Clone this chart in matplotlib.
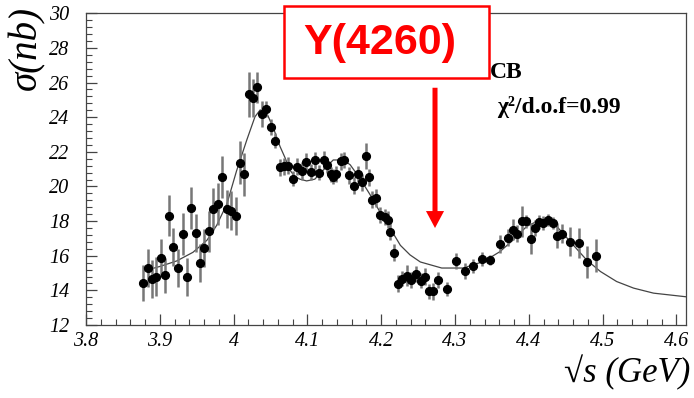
import matplotlib
matplotlib.use("Agg")
import matplotlib.pyplot as plt
from matplotlib.patches import FancyArrow, Rectangle
from matplotlib.ticker import MultipleLocator, FixedLocator, FixedFormatter

# dados: energia (GeV), secao de choque (nb), erro (nb)
energia = [3.8768, 3.8840, 3.8894, 3.8949, 3.9012, 3.9070, 3.9129, 3.9183, 3.9251, 3.9310,
           3.9369, 3.9427, 3.9491, 3.9545, 3.9603, 3.9667, 3.9725, 3.9785, 3.9847, 3.9907,
           3.9965, 4.0028, 4.0083, 4.0141, 4.0209, 4.0259, 4.0321, 4.0385, 4.0443, 4.0503,
           4.0565, 4.0625, 4.0683, 4.0737, 4.0801, 4.0863, 4.0923, 4.0981, 4.1042, 4.1103,
           4.1161, 4.1221, 4.1270, 4.1313, 4.1351, 4.1388, 4.1449, 4.1500, 4.1566, 4.1627,
           4.1688, 4.1742, 4.1797, 4.1828, 4.1875, 4.1930, 4.1984, 4.2045, 4.2092, 4.2119,
           4.2173, 4.2234, 4.2282, 4.2343, 4.2404, 4.2472, 4.2533, 4.2594, 4.2652, 4.2702,
           4.2767, 4.2888, 4.3011, 4.3133, 4.3244, 4.3366, 4.3478, 4.3606, 4.3718, 4.3786,
           4.3844, 4.3908, 4.3958, 4.4026, 4.4080, 4.4134, 4.4197, 4.4260, 4.4324, 4.4378,
           4.4446, 4.4558, 4.4680, 4.4793, 4.4915]
sigma = [14.42, 15.29, 14.67, 14.80, 15.88, 14.86, 18.32, 16.53, 15.29, 17.27,
         14.77, 18.75, 17.32, 15.57, 16.46, 17.40, 18.71, 18.98, 20.54, 18.71,
         18.61, 18.32, 21.38, 20.71, 25.33, 25.10, 25.73, 24.19, 24.48, 23.44,
         22.65, 21.11, 21.17, 21.21, 20.46, 21.15, 20.90, 21.42, 20.84, 21.51,
         20.80, 21.52, 21.22, 20.70, 20.57, 20.73, 21.46, 21.52, 20.65, 20.05,
         20.72, 20.24, 21.75, 20.52, 19.23, 19.33, 18.36, 18.24, 18.09, 17.38,
         16.17, 14.38, 14.68, 14.85, 14.61, 14.96, 14.57, 14.79, 13.94, 13.94,
         14.61, 14.09, 15.69, 15.12, 15.42, 15.81, 15.76, 16.67, 17.05, 17.50,
         17.27, 17.98, 17.98, 16.98, 17.59, 17.94, 17.88, 18.07, 17.88, 17.15,
         17.27, 16.82, 16.73, 15.63, 16.00]
erro = [1.05, 1.1, 1.1, 1.1, 1.1, 1.0, 1.2, 1.1, 1.1, 1.2,
        1.1, 1.2, 1.1, 1.1, 1.1, 1.2, 1.2, 1.2, 1.2, 1.1,
        1.1, 1.1, 1.25, 1.25, 1.3, 1.1, 0.9, 0.75, 0.45, 0.45,
        0.45, 0.5, 0.5, 0.5, 0.45, 0.5, 0.5, 0.5, 0.45, 0.5,
        0.45, 0.5, 0.45, 0.45, 0.45, 0.45, 0.5, 0.45, 0.5, 0.5,
        0.45, 0.5, 0.75, 0.5, 0.5, 0.5, 0.45, 0.45, 0.5, 0.5,
        0.5, 0.5, 0.45, 0.6, 0.45, 0.45, 0.45, 0.5, 0.45, 0.5,
        0.45, 0.4, 0.45, 0.45, 0.4, 0.4, 0.3, 0.5, 0.5, 0.6,
        0.5, 0.9, 0.35, 0.9, 0.45, 0.4, 0.4, 0.35, 0.35, 0.72,
        0.55, 0.85, 0.87, 0.91, 0.96]

# curva do ajuste (CB), lida ponto a ponto
ajuste_x = [3.878, 3.900, 3.923, 3.945, 3.964, 3.977, 3.991, 4.004, 4.018, 4.029,
            4.036, 4.045, 4.054, 4.063, 4.070, 4.076, 4.083, 4.090, 4.099, 4.110,
            4.124, 4.135, 4.149, 4.158, 4.171, 4.185, 4.198, 4.212, 4.226, 4.239,
            4.253, 4.282, 4.311, 4.339, 4.361, 4.379, 4.397, 4.415, 4.426, 4.438,
            4.456, 4.478, 4.497, 4.519, 4.542, 4.569, 4.613]
ajuste_y = [15.12, 15.38, 15.70, 16.20, 16.90, 17.75, 19.00, 20.90, 22.70, 24.03,
            24.42, 24.23, 23.36, 22.30, 21.63, 20.96, 20.57, 20.42, 20.32, 20.42,
            21.06, 21.53, 21.53, 21.25, 20.48, 19.52, 18.55, 17.59, 16.60, 16.05,
            15.64, 15.29, 15.29, 15.67, 16.24, 16.92, 17.69, 18.07, 18.11, 17.69,
            16.82, 15.77, 15.09, 14.51, 14.13, 13.84, 13.63]

xticks = [3.8, 3.9, 4.0, 4.1, 4.2, 4.3, 4.4, 4.5, 4.6]
xtick_labels = ['3.8', '3.9', '4', '4.1', '4.2', '4.3', '4.4', '4.5', '4.6']
yticks = [12, 14, 16, 18, 20, 22, 24, 26, 28, 30]

fonte = 'Liberation Serif'

fig = plt.figure(figsize=(6.94, 3.98), dpi=100)
ax = fig.add_axes([0.1239, 0.1834, 0.8646, 0.7832])

ax.plot(ajuste_x, ajuste_y, color='#444444', lw=0.9, zorder=2)
ax.errorbar(energia, sigma, yerr=erro, fmt='o', color='black', ms=5.6,
            ecolor='#777777', elinewidth=1.8, capsize=0, zorder=3)

ax.set_xlim(3.8, 4.613)
ax.set_ylim(12, 30)

ax.xaxis.set_major_locator(FixedLocator(xticks))
ax.xaxis.set_major_formatter(FixedFormatter(xtick_labels))
ax.xaxis.set_minor_locator(MultipleLocator(0.02))
ax.yaxis.set_major_locator(FixedLocator(yticks))
ax.yaxis.set_minor_locator(MultipleLocator(0.4))
ax.tick_params(which='both', direction='in', top=False, right=False, color='#444444')
ax.tick_params(which='major', length=8, width=0.9)
ax.tick_params(which='minor', length=4, width=0.8)
ax.tick_params(axis='x', pad=5)
ax.tick_params(axis='y', pad=12)
for lab in ax.get_xticklabels() + ax.get_yticklabels():
    lab.set_fontfamily(fonte)
    lab.set_fontstyle('italic')
    lab.set_fontsize(14.5)
for s in ax.spines.values():
    s.set_color('#444444')
    s.set_linewidth(0.9)

# titulos dos eixos
fig.text(27 / 694, 1 - 6 / 398, 'σ(nb)', rotation=90, ha='center', va='top',
         family=fonte, style='italic', fontsize=28)
fig.text(690 / 694, 1 - 373 / 398, '√s (GeV)', ha='right', va='center',
         family=fonte, style='italic', fontsize=25)

# caixa Y(4260) e seta
caixa = Rectangle((284 / 694, 1 - 78 / 398), 205 / 694, 72 / 398, transform=fig.transFigure,
                  facecolor='white', edgecolor='red', lw=1.8, zorder=5)
fig.patches.append(caixa)
fig.text(380 / 694, 1 - 43 / 398, 'Y(4260)', ha='center', va='center', color='red',
         family='Liberation Sans', weight='bold', fontsize=31, zorder=6)
ax.add_patch(FancyArrow(4.2729, 25.7, 0, -8.1, width=0.0068, head_width=0.0245,
                        head_length=0.98, length_includes_head=True, color='red',
                        lw=0, zorder=6))

fig.text(490 / 694, 1 - 73 / 398, 'CB', ha='left', va='center',
         family=fonte, weight='bold', fontsize=17)
fig.text(497 / 694, 1 - 107 / 398, 'χ²/d.o.f=0.99', ha='left', va='center',
         family=fonte, weight='bold', fontsize=17)

fig.savefig('out.png', dpi=100)
